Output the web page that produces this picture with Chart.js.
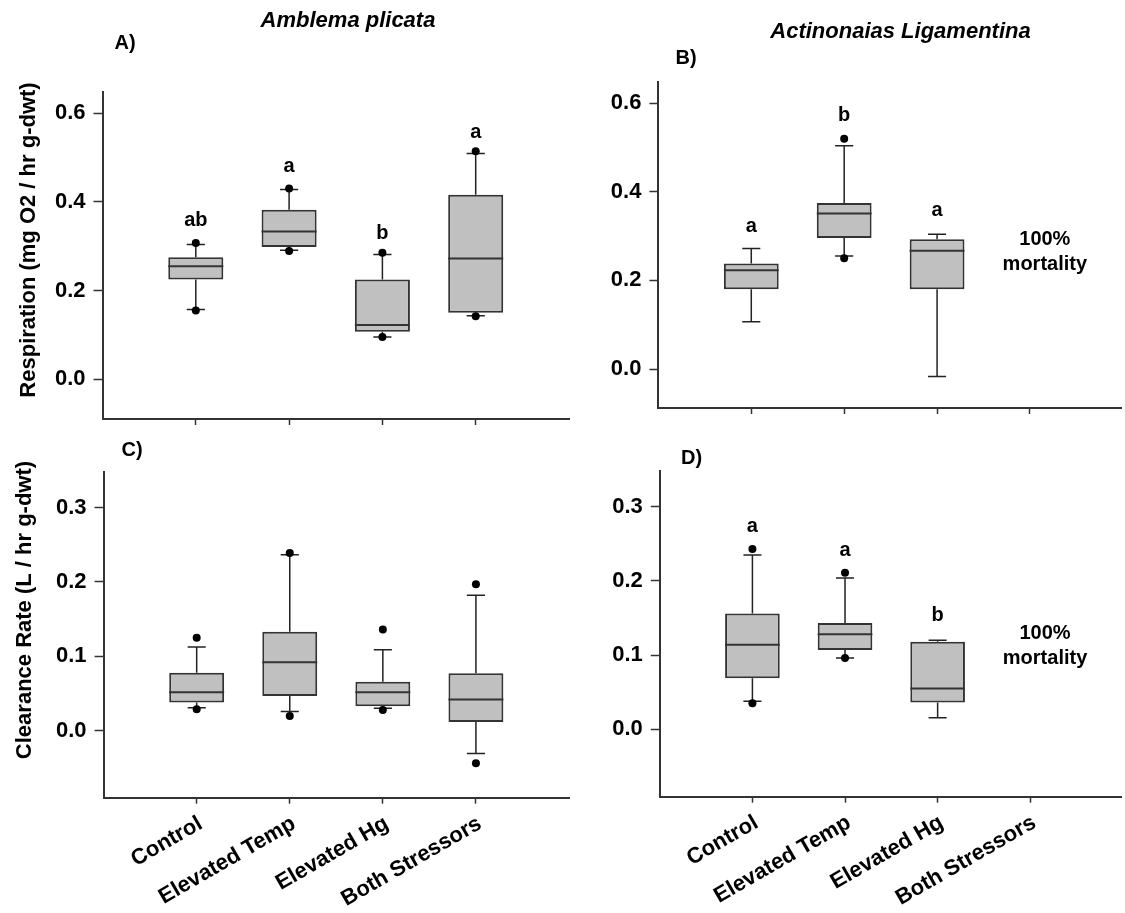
<!DOCTYPE html>
<html>
<head>
<meta charset="utf-8">
<title>Respiration and clearance rate by treatment</title>
<script src="https://cdn.jsdelivr.net/npm/chart.js@4.4.1/dist/chart.umd.min.js"></script>
<style>
  html, body { margin: 0; padding: 0; background: #fff; }
  #figure { position: relative; width: 1125px; height: 913px; overflow: hidden; background: #fff; }
  #figure canvas { position: absolute; }
</style>
</head>
<body>
<div id="figure">
  <canvas id="panel-a"></canvas>
  <canvas id="panel-b"></canvas>
  <canvas id="panel-c"></canvas>
  <canvas id="panel-d"></canvas>
</div>
<script>
const CATEGORIES = ['Control', 'Elevated Temp', 'Elevated Hg', 'Both Stressors'];

// A) Amblema plicata - respiration
const A_Q1 = [0.225, 0.298, 0.107, 0.150];
const A_MEDIAN = [0.255, 0.333, 0.122, 0.272];
const A_Q3 = [0.275, 0.382, 0.225, 0.416];
const A_WHISKER_LO = [0.157, 0.291, 0.095, 0.143];
const A_WHISKER_HI = [0.304, 0.428, 0.281, 0.509];
const A_OUTLIERS = [[0.307, 0.155], [0.430, 0.289], [0.285, 0.095], [0.514, 0.142]];
const A_LETTERS = ['ab', 'a', 'b', 'a'];
const A_LETTER_Y = [0.359, 0.481, 0.329, 0.556];

// B) Actinonaias ligamentina - respiration (no survivors with both stressors)
const B_Q1 = [0.180, 0.296, 0.180, null];
const B_MEDIAN = [0.223, 0.351, 0.267, null];
const B_Q3 = [0.238, 0.375, 0.293, null];
const B_WHISKER_LO = [0.107, 0.255, -0.017, null];
const B_WHISKER_HI = [0.272, 0.504, 0.304, null];
const B_OUTLIERS = [[], [0.520, 0.250], [], []];
const B_LETTERS = ['a', 'b', 'a', ''];
const B_LETTER_Y = [0.321, 0.572, 0.359, null];

// C) Amblema plicata - clearance rate
const C_Q1 = [0.038, 0.047, 0.033, 0.012];
const C_MEDIAN = [0.052, 0.092, 0.052, 0.042];
const C_Q3 = [0.078, 0.133, 0.066, 0.0775];
const C_WHISKER_LO = [0.031, 0.026, 0.0305, -0.0305];
const C_WHISKER_HI = [0.1125, 0.2366, 0.109, 0.182];
const C_OUTLIERS = [[0.125, 0.029], [0.239, 0.020], [0.136, 0.028], [0.197, -0.0435]];

// D) Actinonaias ligamentina - clearance rate
const D_Q1 = [0.0687, 0.107, 0.036, null];
const D_MEDIAN = [0.114, 0.128, 0.055, null];
const D_Q3 = [0.156, 0.1433, 0.118, null];
const D_WHISKER_LO = [0.0377, 0.096, 0.0157, null];
const D_WHISKER_HI = [0.235, 0.204, 0.120, null];
const D_OUTLIERS = [[0.243, 0.035], [0.211, 0.096], [], []];
const D_LETTERS = ['a', 'a', 'b', ''];
const D_LETTER_Y = [0.273, 0.241, 0.154, null];

const FONT = '"Liberation Sans", Arial, Helvetica, sans-serif';
const AXIS_COLOR = '#333';
const BOX_FILL = '#c0c0c0';
const Y_SCALE_W = 60;
const CAP_RATIO = 0.33;

Chart.defaults.font.family = FONT;
Chart.defaults.color = '#000';

function makePanel(p) {
    const canvas = document.getElementById(p.id);
    canvas.width = p.frame.w;
    canvas.height = p.frame.h;
    canvas.style.left = p.frame.x + 'px';
    canvas.style.top = p.frame.y + 'px';

    const boxes = [];
    const dots = [];
    CATEGORIES.forEach((c, i) => {
        if (p.q1[i] == null) return;
        boxes.push({ x: i + 1, y: [p.q1[i], p.q3[i]], k: i });
        p.outliers[i].forEach(v => dots.push({ x: i + 1, y: v }));
    });

    // rotated labels get clipped to the scale box, so leave room for them
    const xScaleH = p.showLabels ? 115 : 8;

    // whiskers, medians, letters and free text
    const boxParts = {
        id: 'boxParts',
        beforeDatasetsDraw(chart) {
            const { ctx } = chart;
            const y = chart.scales.y;
            const bars = chart.getDatasetMeta(0).data;
            ctx.save();
            ctx.strokeStyle = '#222';
            ctx.lineWidth = 1.5;
            bars.forEach((bar, j) => {
                const i = boxes[j].k;
                const cap = bar.width * CAP_RATIO / 2;
                [[p.q3[i], p.hi[i]], [p.q1[i], p.lo[i]]].forEach(([from, to]) => {
                    const y0 = y.getPixelForValue(from);
                    const y1 = y.getPixelForValue(to);
                    ctx.beginPath();
                    ctx.moveTo(bar.x, y0);
                    ctx.lineTo(bar.x, y1);
                    ctx.moveTo(bar.x - cap, y1);
                    ctx.lineTo(bar.x + cap, y1);
                    ctx.stroke();
                });
            });
            ctx.restore();
        },
        afterDatasetsDraw(chart) {
            const { ctx } = chart;
            const { x, y } = chart.scales;
            const bars = chart.getDatasetMeta(0).data;
            ctx.save();
            ctx.strokeStyle = AXIS_COLOR;
            ctx.lineWidth = 2;
            bars.forEach((bar, j) => {
                const i = boxes[j].k;
                const ym = y.getPixelForValue(p.median[i]);
                ctx.beginPath();
                ctx.moveTo(bar.x - bar.width / 2, ym);
                ctx.lineTo(bar.x + bar.width / 2, ym);
                ctx.stroke();
            });

            ctx.fillStyle = '#000';
            ctx.textAlign = 'center';
            ctx.textBaseline = 'middle';
            ctx.font = 'bold 20px ' + FONT;
            if (p.letters) {
                p.letters.forEach((l, i) => {
                    if (!l) return;
                    ctx.fillText(l, x.getPixelForValue(i + 1), y.getPixelForValue(p.letterY[i]));
                });
            }
            if (p.note) {
                const nx = x.getPixelForValue(p.note.x);
                const ny = y.getPixelForValue(p.note.y);
                p.note.lines.forEach((t, k) => {
                    ctx.fillText(t, nx, ny + (k - (p.note.lines.length - 1) / 2) * 25);
                });
            }
            ctx.restore();
        },
        afterDraw(chart) {
            const { ctx } = chart;
            ctx.save();
            ctx.translate(-p.frame.x, -p.frame.y);
            ctx.fillStyle = '#000';
            ctx.textAlign = 'center';
            ctx.textBaseline = 'middle';
            p.texts.forEach(t => {
                ctx.save();
                ctx.font = t.font + ' ' + FONT;
                ctx.translate(t.x, t.y);
                if (t.vertical) ctx.rotate(-Math.PI / 2);
                ctx.fillText(t.text, 0, 0);
                ctx.restore();
            });
            ctx.restore();
        }
    };

    return new Chart(canvas, {
        type: 'bar',
        data: {
            datasets: [
                {
                    type: 'bar',
                    data: boxes,
                    backgroundColor: BOX_FILL,
                    borderColor: AXIS_COLOR,
                    borderWidth: 2,
                    borderSkipped: false,
                    categoryPercentage: 1,
                    barPercentage: 0.59,
                    order: 1
                },
                {
                    type: 'scatter',
                    data: dots,
                    pointRadius: 4,
                    pointStyle: 'circle',
                    backgroundColor: '#000',
                    borderColor: '#000',
                    borderWidth: 0,
                    order: 0
                }
            ]
        },
        options: {
            responsive: false,
            animation: false,
            events: [],
            layout: {
                padding: {
                    left: p.area.left - p.frame.x - Y_SCALE_W,
                    top: p.area.top - p.frame.y,
                    right: p.frame.x + p.frame.w - p.area.right,
                    bottom: p.frame.y + p.frame.h - p.area.bottom - xScaleH
                }
            },
            plugins: {
                legend: { display: false },
                tooltip: { enabled: false }
            },
            scales: {
                x: {
                    type: 'linear',
                    offset: false,
                    min: 0,
                    max: p.xMax,
                    afterBuildTicks: s => { s.ticks = CATEGORIES.map((c, i) => ({ value: i + 1 })); },
                    afterFit: s => {
                        s.height = xScaleH;
                        s.paddingLeft = 0;
                        s.paddingRight = 0;
                    },
                    grid: { offset: false, drawOnChartArea: false, drawTicks: true, tickLength: 6, tickWidth: 1.5, tickColor: AXIS_COLOR },
                    border: { display: true, color: AXIS_COLOR, width: 2 },
                    ticks: {
                        display: p.showLabels,
                        autoSkip: false,
                        minRotation: 30,
                        maxRotation: 30,
                        padding: 7,
                        labelOffset: 4,
                        color: '#000',
                        font: { size: 22, weight: 'bold' },
                        callback: v => CATEGORIES[v - 1]
                    }
                },
                y: {
                    type: 'linear',
                    min: p.yMin,
                    max: p.yMax,
                    afterFit: s => {
                        s.width = Y_SCALE_W;
                        s.paddingTop = 0;
                        s.paddingBottom = 0;
                    },
                    grid: { drawOnChartArea: false, drawTicks: true, tickLength: 9, tickWidth: 1.5, tickColor: AXIS_COLOR },
                    border: { display: true, color: AXIS_COLOR, width: 2 },
                    ticks: {
                        stepSize: p.yStep,
                        includeBounds: false,
                        padding: 8,
                        color: '#000',
                        font: { size: 22, weight: 'bold' },
                        callback: v => (Math.abs(v) < 1e-9 ? 0 : v).toFixed(1)
                    }
                }
            }
        },
        plugins: [boxParts]
    });
}

makePanel({
    id: 'panel-a',
    frame: { x: 0, y: 0, w: 575, h: 430 },
    area: { left: 102.5, top: 92, right: 569, bottom: 419 },
    xMax: 5, yMin: -0.09, yMax: 0.648, yStep: 0.2, showLabels: false,
    q1: A_Q1, median: A_MEDIAN, q3: A_Q3, lo: A_WHISKER_LO, hi: A_WHISKER_HI,
    outliers: A_OUTLIERS, letters: A_LETTERS, letterY: A_LETTER_Y,
    texts: [
        { text: 'Amblema plicata', x: 348, y: 21, font: 'italic bold 22px' },
        { text: 'A)', x: 125, y: 43, font: 'bold 20px' },
        { text: 'Respiration (mg O2 / hr g-dwt)', x: 28.6, y: 240, font: 'bold 22px', vertical: true }
    ]
});

makePanel({
    id: 'panel-b',
    frame: { x: 575, y: 0, w: 550, h: 430 },
    area: { left: 658.4, top: 82, right: 1125, bottom: 408 },
    xMax: 4.98, yMin: -0.088, yMax: 0.648, yStep: 0.2, showLabels: false,
    q1: B_Q1, median: B_MEDIAN, q3: B_Q3, lo: B_WHISKER_LO, hi: B_WHISKER_HI,
    outliers: B_OUTLIERS, letters: B_LETTERS, letterY: B_LETTER_Y,
    note: { x: 4.16, y: 0.265, lines: ['100%', 'mortality'] },
    texts: [
        { text: 'Actinonaias Ligamentina', x: 900.5, y: 31.7, font: 'italic bold 22px' },
        { text: 'B)', x: 686, y: 58, font: 'bold 20px' }
    ]
});

makePanel({
    id: 'panel-c',
    frame: { x: 0, y: 430, w: 575, h: 483 },
    area: { left: 103.6, top: 471.7, right: 569, bottom: 797.7 },
    xMax: 5, yMin: -0.0897, yMax: 0.348, yStep: 0.1, showLabels: true,
    q1: C_Q1, median: C_MEDIAN, q3: C_Q3, lo: C_WHISKER_LO, hi: C_WHISKER_HI,
    outliers: C_OUTLIERS,
    texts: [
        { text: 'C)', x: 132, y: 450.7, font: 'bold 20px' },
        { text: 'Clearance Rate (L / hr g-dwt)', x: 25, y: 610, font: 'bold 22px', vertical: true }
    ]
});

makePanel({
    id: 'panel-d',
    frame: { x: 575, y: 430, w: 550, h: 483 },
    area: { left: 659.8, top: 470.7, right: 1125, bottom: 796.7 },
    xMax: 4.98, yMin: -0.0908, yMax: 0.3485, yStep: 0.1, showLabels: true,
    q1: D_Q1, median: D_MEDIAN, q3: D_Q3, lo: D_WHISKER_LO, hi: D_WHISKER_HI,
    outliers: D_OUTLIERS, letters: D_LETTERS, letterY: D_LETTER_Y,
    note: { x: 4.16, y: 0.1125, lines: ['100%', 'mortality'] },
    texts: [
        { text: 'D)', x: 691.5, y: 458, font: 'bold 20px' }
    ]
});
</script>
</body>
</html>
